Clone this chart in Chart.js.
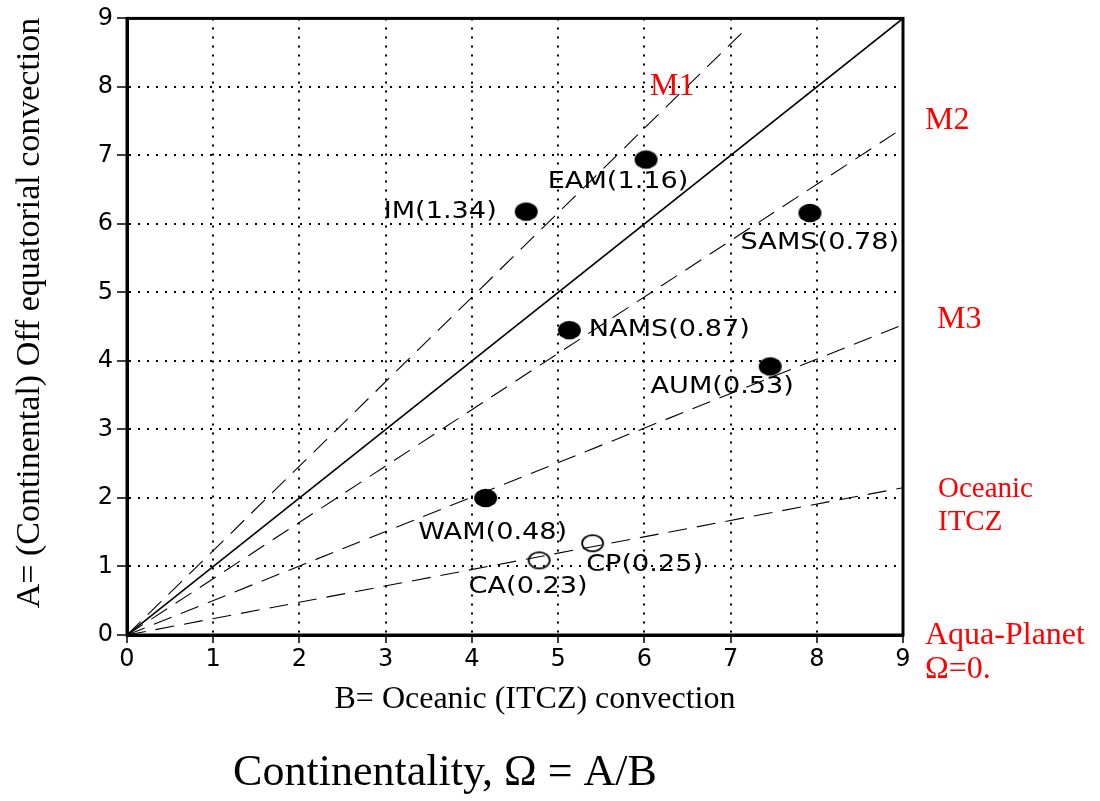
<!DOCTYPE html>
<html>
<head>
<meta charset="utf-8">
<script src="https://cdn.jsdelivr.net/npm/chart.js@4.4.1/dist/chart.umd.min.js"></script>
<style>
  html, body { margin: 0; padding: 0; background: #fff; }
  #wrap { width: 1100px; height: 801px; }
</style>
</head>
<body>
<div id="wrap"><canvas id="chart" width="1100" height="801"></canvas></div>
<script>
// monsoon regions: B (oceanic) vs A (continental), with continentality in brackets
const monsoonNames = ['EAM(1.16)', 'IM(1.34)', 'SAMS(0.78)', 'NAMS(0.87)', 'AUM(0.53)', 'WAM(0.48)'];
const monsoonB = [6.02, 4.63, 7.92, 5.13, 7.46, 4.16];
const monsoonA = [6.94, 6.18, 6.16, 4.45, 3.92, 2.00];

const oceanNames = ['CA(0.23)', 'CP(0.25)'];
const oceanB = [4.78, 5.40];
const oceanA = [1.09, 1.34];

// reference lines from the origin, end points
const refLineNames = ['M1', 'equal', 'M2', 'M3', 'Oceanic ITCZ'];
const refLineEndB = [7.14, 9, 9, 9, 9];
const refLineEndA = [8.8, 9, 7.40, 4.53, 2.15];

const tickValues = [0, 1, 2, 3, 4, 5, 6, 7, 8, 9];

// label offsets in pixels from each marker (center of text)
const monsoonLabelShift = [[-28, 22], [-86, 0], [10, 30], [100, 0], [-48, 21], [7, 35]];
const oceanLabelShift = [[-11, 27], [52, 22]];

function ellipseMark(filled) {
    const c = document.createElement('canvas');
    c.width = 27; c.height = 22;
    const g = c.getContext('2d');
    g.beginPath();
    if (filled) {
        g.ellipse(13.5, 11, 11.5, 9.3, 0, 0, Math.PI * 2);
        g.fillStyle = '#000';
        g.fill();
    } else {
        g.ellipse(13.5, 11, 10.5, 8.2, 0, 0, Math.PI * 2);
        g.lineWidth = 1.8;
        g.strokeStyle = '#000';
        g.stroke();
    }
    return c;
}

const datasets = [];
datasets.push({
    label: 'monsoon',
    data: monsoonB.map((b, i) => ({ x: b, y: monsoonA[i] })),
    pointStyle: ellipseMark(true),
    showLine: false,
    order: 0
});
datasets.push({
    label: 'ocean',
    data: oceanB.map((b, i) => ({ x: b, y: oceanA[i] })),
    pointStyle: ellipseMark(false),
    showLine: false,
    order: 0
});
refLineNames.forEach((name, i) => {
    datasets.push({
        label: name,
        data: [{ x: 0, y: 0 }, { x: refLineEndB[i], y: refLineEndA[i] }],
        showLine: true,
        borderColor: '#000',
        borderWidth: name === 'equal' ? 1.6 : 1.1,
        borderDash: name === 'equal' ? [] : [19, 10],
        pointRadius: 0,
        order: 1
    });
});

const sans = '"DejaVu Sans", sans-serif';
const serif = '"Liberation Serif", "Times New Roman", serif';

const decorations = {
    id: 'decorations',
    afterDraw(chart) {
        const ctx = chart.ctx;
        const a = chart.chartArea;
        const xs = chart.scales.x, ys = chart.scales.y;

        // frame
        ctx.save();
        ctx.strokeStyle = '#000';
        ctx.lineWidth = 3;
        ctx.strokeRect(a.left, a.top, a.right - a.left, a.bottom - a.top);
        ctx.restore();

        // point labels, wide sans
        function pointLabel(text, px, py) {
            ctx.save();
            ctx.translate(px, py);
            ctx.scale(1.18, 1);
            ctx.font = '23px ' + sans;
            ctx.fillStyle = '#000';
            ctx.textAlign = 'center';
            ctx.textBaseline = 'middle';
            ctx.fillText(text, 0, 0);
            ctx.restore();
        }
        monsoonNames.forEach((n, i) => {
            pointLabel(n, xs.getPixelForValue(monsoonB[i]) + monsoonLabelShift[i][0],
                ys.getPixelForValue(monsoonA[i]) + monsoonLabelShift[i][1]);
        });
        oceanNames.forEach((n, i) => {
            pointLabel(n, xs.getPixelForValue(oceanB[i]) + oceanLabelShift[i][0],
                ys.getPixelForValue(oceanA[i]) + oceanLabelShift[i][1]);
        });

        // axis titles
        ctx.save();
        ctx.fillStyle = '#000';
        ctx.textAlign = 'center';
        ctx.textBaseline = 'middle';
        ctx.font = '32px ' + serif;
        ctx.fillText('B= Oceanic (ITCZ) convection', 535, 700);
        ctx.translate(30, 313);
        ctx.rotate(-Math.PI / 2);
        ctx.font = '34px ' + serif;
        ctx.fillText('A= (Continental) Off equatorial convection', 0, 0);
        ctx.restore();

        ctx.save();
        ctx.fillStyle = '#000';
        ctx.textAlign = 'center';
        ctx.textBaseline = 'middle';
        ctx.font = '44px ' + serif;
        ctx.fillText('Continentality, \u03A9 = A/B', 445, 773);
        ctx.restore();

        // red line names
        ctx.save();
        ctx.fillStyle = '#ff0000';
        ctx.textAlign = 'left';
        ctx.textBaseline = 'middle';
        ctx.font = '32px ' + serif;
        ctx.fillText('M1', 650, 87);
        ctx.fillText('M2', 925, 121);
        ctx.fillText('M3', 937, 320);
        ctx.fillText('Aqua-Planet', 925, 636);
        ctx.fillText('\u03A9=0.', 925, 670);
        ctx.font = '29px ' + serif;
        ctx.fillText('Oceanic', 938, 489);
        ctx.fillText('ITCZ', 938, 522);
        ctx.restore();
    }
};

function axisOptions(isX) {
    return {
        type: 'linear',
        min: 0,
        max: 9,
        afterBuildTicks: (s) => { s.ticks = tickValues.map(v => ({ value: v })); },
        afterFit: (s) => {
            if (isX) s.height = 166; else s.width = 127;
        },
        ticks: {
            color: '#000',
            font: { family: sans, size: 24 },
            padding: isX ? 2 : 4,
            maxRotation: 0,
            callback: (v) => String(v)
        },
        grid: {
            color: '#000',
            lineWidth: 2,
            tickBorderDash: [],
            tickLength: isX ? 8 : 10,
            tickWidth: 1.5,
            tickColor: '#000'
        },
        border: { display: true, color: '#000', width: 3, dash: [2, 7] }
    };
}

new Chart(document.getElementById('chart'), {
    type: 'scatter',
    data: { datasets: datasets },
    options: {
        responsive: false,
        animation: false,
        layout: { padding: { top: 18, right: 197, bottom: 0, left: 0 } },
        plugins: {
            legend: { display: false },
            tooltip: { enabled: false }
        },
        scales: {
            x: axisOptions(true),
            y: axisOptions(false)
        }
    },
    plugins: [decorations]
});
</script>
</body>
</html>
